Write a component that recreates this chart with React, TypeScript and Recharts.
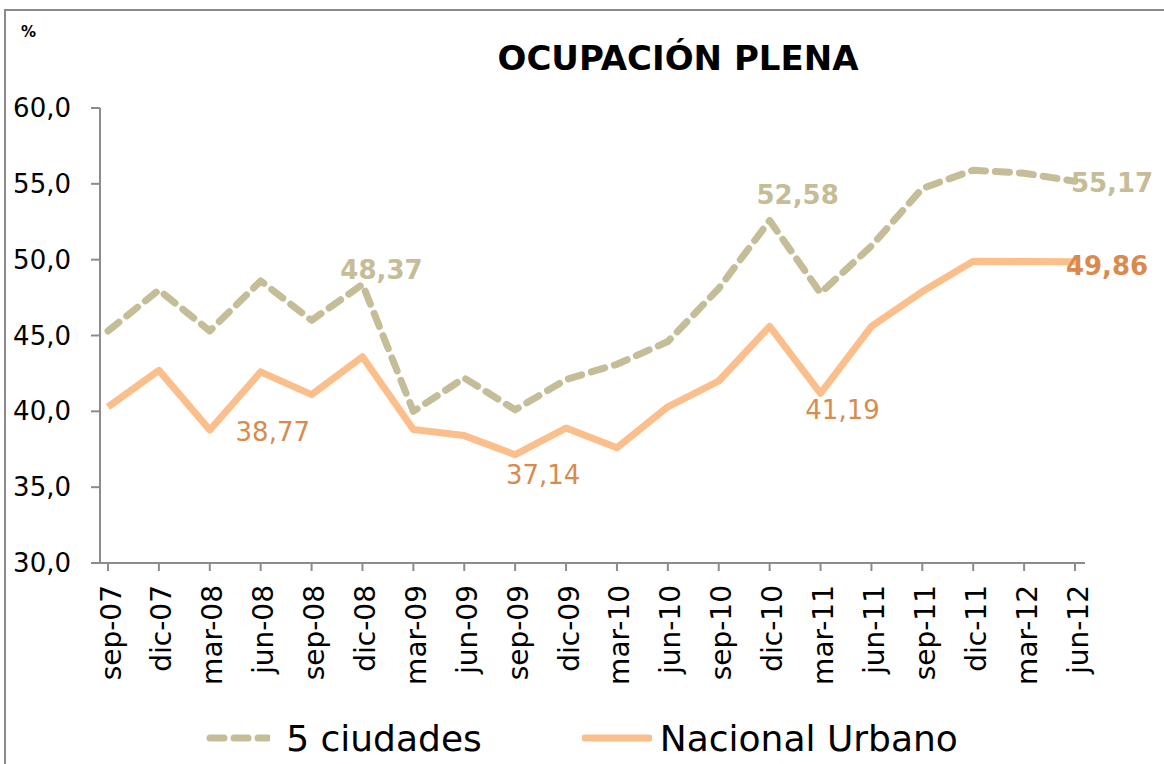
import { LineChart, Line, XAxis, YAxis, LabelList, Legend } from 'recharts'

const categories = [
  'sep-07', 'dic-07', 'mar-08', 'jun-08', 'sep-08', 'dic-08', 'mar-09', 'jun-09', 'sep-09', 'dic-09',
  'mar-10', 'jun-10', 'sep-10', 'dic-10', 'mar-11', 'jun-11', 'sep-11', 'dic-11', 'mar-12', 'jun-12',
]
const ciudades5 = [
  45.3, 48.0, 45.3, 48.6, 46.0, 48.37, 40.0, 42.2, 40.1, 42.1,
  43.1, 44.6, 48.1, 52.58, 47.8, 50.9, 54.7, 55.9, 55.7, 55.17,
]
const nacionalUrbano = [
  40.3, 42.7, 38.77, 42.6, 41.1, 43.6, 38.8, 38.4, 37.14, 38.9,
  37.6, 40.3, 42.0, 45.6, 41.19, 45.6, 47.9, 49.9, 49.88, 49.86,
]
const yTicks = [30, 35, 40, 45, 50, 55, 60]

const FONT = '"DejaVu Sans", sans-serif'
const TAN = '#C4BD97'
const ORANGE = '#FCBE8A'
const ORANGE_TXT = '#D98A4E'
const AXIS = '#8c8c8c'

const fmt = (v: number, d = 1) => v.toFixed(d).replace('.', ',')

// which points get a value label, and where it sits relative to the point
const ciudadesLabelPos: Record<number, [number, number]> = { 5: [19, -14], 13: [28, -26], 19: [37, 2] }
const nacionalLabelPos: Record<number, [number, number]> = { 2: [63, 2], 8: [28, 20], 14: [22, 17], 19: [32, 4] }

const data = categories.map((c, i) => ({
  name: c,
  ciudades: ciudades5[i],
  nacional: nacionalUrbano[i],
}))

function makeLabel(pos: Record<number, [number, number]>, color: string, boldAt: (i: number) => boolean) {
  return (props: any) => {
    const { x, y, value, index } = props
    const p = pos[index]
    if (!p) return null
    return (
      <text
        x={x + p[0]}
        y={y + p[1]}
        textAnchor="middle"
        dominantBaseline="central"
        fill={color}
        fontFamily={FONT}
        fontSize={26}
        fontWeight={boldAt(index) ? 'bold' : 'normal'}
      >
        {fmt(value, 2)}
      </text>
    )
  }
}

function XTick({ x, y, payload }: any) {
  return (
    <text
      transform={`translate(${x + 3},${y + 12}) rotate(-90)`}
      textAnchor="end"
      dominantBaseline="central"
      fontFamily={FONT}
      fontSize={28}
      fill="#000"
    >
      {payload.value}
    </text>
  )
}

function YTick({ x, y, payload }: any) {
  return (
    <text x={x - 18} y={y} textAnchor="end" dominantBaseline="central" fontFamily={FONT} fontSize={26} fill="#000">
      {fmt(payload.value)}
    </text>
  )
}

function LegendContent() {
  return (
    <div style={{ display: 'flex', justifyContent: 'center', alignItems: 'center', height: 40, fontFamily: FONT, fontSize: 36, color: '#000' }}>
      <svg width={64} height={12} style={{ marginRight: 16 }}>
        <line x1={4} y1={6} x2={62} y2={6} stroke={TAN} strokeWidth={7} strokeDasharray="14 10" strokeLinecap="round" />
      </svg>
      <span style={{ marginRight: 100 }}>5 ciudades</span>
      <svg width={70} height={12} style={{ marginRight: 8 }}>
        <line x1={3} y1={6} x2={67} y2={6} stroke={ORANGE} strokeWidth={7} strokeLinecap="round" />
      </svg>
      <span>Nacional Urbano</span>
    </div>
  )
}

export default function App() {
  return (
    <div style={{ position: 'absolute', left: 0, top: 0, width: 1164, height: 764, background: '#fff', overflow: 'hidden' }}>
      <div style={{ position: 'absolute', left: 4, top: 9, width: 1200, height: 800, border: '2px solid #8a8a8a' }} />
      <div style={{ position: 'absolute', left: 21, top: 23, fontFamily: FONT, fontSize: 15, fontWeight: 'bold' }}>%</div>
      <div style={{ position: 'absolute', left: 0, width: 1356, top: 38, textAlign: 'center', fontFamily: FONT, fontSize: 34, fontWeight: 'bold', color: '#000' }}>
        OCUPACIÓN PLENA
      </div>
      <LineChart width={1164} height={764} data={data} margin={{ top: 108, right: 79, bottom: 6, left: 0 }} style={{ position: 'absolute', left: 0, top: 0 }}>
        <XAxis
          dataKey="name"
          interval={0}
          padding={{ left: 8, right: 10 }}
          height={155}
          stroke={AXIS}
          strokeWidth={2}
          tickSize={8}
          tick={<XTick />}
        />
        <YAxis
          domain={[30, 60]}
          ticks={yTicks}
          width={100}
          stroke={AXIS}
          strokeWidth={2}
          tickSize={9}
          tick={<YTick />}
        />
        <Legend verticalAlign="bottom" content={<LegendContent />} wrapperStyle={{ left: 0, width: 1164 }} />
        <Line
          dataKey="ciudades"
          stroke={TAN}
          strokeWidth={7}
          strokeDasharray="14 10"
          strokeLinecap="round"
          strokeLinejoin="round"
          dot={false}
          isAnimationActive={false}
        >
          <LabelList dataKey="ciudades" content={makeLabel(ciudadesLabelPos, TAN, () => true)} />
        </Line>
        <Line
          dataKey="nacional"
          stroke={ORANGE}
          strokeWidth={7}
          strokeLinejoin="round"
          dot={false}
          isAnimationActive={false}
        >
          <LabelList dataKey="nacional" content={makeLabel(nacionalLabelPos, ORANGE_TXT, (i) => i === 19)} />
        </Line>
      </LineChart>
    </div>
  )
}
